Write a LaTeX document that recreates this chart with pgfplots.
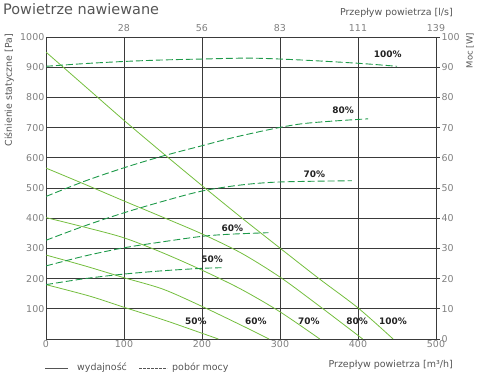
\documentclass[border=0pt]{standalone}
\usepackage{pgfplots}
\pgfplotsset{compat=1.18}
\usepackage{fontspec}
\setmainfont{DejaVu Sans}
\definecolor{gridc}{HTML}{3A3A3A}
\definecolor{solidg}{HTML}{74BE3E}
\definecolor{dashg}{HTML}{1E9A4A}
\definecolor{tickc}{HTML}{808080}
\definecolor{labc}{HTML}{555555}
\definecolor{pctc}{HTML}{222222}
\begin{document}
\begin{tikzpicture}
\useasboundingbox (-46bp,-37bp) rectangle (434bp,339bp);
\begin{axis}[
  scale only axis, width=390bp, height=302bp,
  xmin=0, xmax=500, ymin=0, ymax=1000,
  xtick={0,100,...,500}, ytick={100,200,...,1000},
  xtick pos=bottom, ytick pos=left,
  grid=major, grid style={gridc, line width=0.9bp},
  axis line style={gridc, line width=0.9bp},
  major tick length=0pt,
  tick label style={font=\fontsize{9.5}{10}\selectfont, text=tickc, inner sep=1.5bp},
  /pgf/number format/assume math mode=true,
  /pgf/number format/1000 sep={},
  clip=true,
]
% wydajnosc (solid)
\addplot[solidg, line width=0.8bp, smooth] coordinates {(0,950) (50,837) (100,724) (150,615) (200,508) (250,403) (300,301) (350,200) (400,103) (445,0)};
\addplot[solidg, line width=0.8bp, smooth] coordinates {(0,566) (50,512) (100,457) (150,403) (200,348) (250,285) (300,205) (350,110) (406,0)};
\addplot[solidg, line width=0.8bp, smooth] coordinates {(0,402) (50,370) (100,335) (150,285) (200,228) (250,165) (300,90) (351,0)};
\addplot[solidg, line width=0.8bp, smooth] coordinates {(0,278) (50,242) (100,203) (150,165) (200,108) (250,46) (286,0)};
\addplot[solidg, line width=0.8bp, smooth] coordinates {(0,180) (56,142) (100,105) (150,64) (200,19) (221,0)};
\node[font=\bfseries\fontsize{9}{10}\selectfont, text=pctc] at (axis cs:192,60) {50\%};
\node[font=\bfseries\fontsize{9}{10}\selectfont, text=pctc] at (axis cs:269,60) {60\%};
\node[font=\bfseries\fontsize{9}{10}\selectfont, text=pctc] at (axis cs:337,60) {70\%};
\node[font=\bfseries\fontsize{9}{10}\selectfont, text=pctc] at (axis cs:399,60) {80\%};
\node[font=\bfseries\fontsize{9}{10}\selectfont, text=pctc] at (axis cs:445,60) {100\%};
\end{axis}
\begin{axis}[
  scale only axis, width=390bp, height=302bp,
  xmin=0, xmax=500, ymin=0, ymax=100,
  xtick={100,200,...,500}, xticklabels={28,56,83,111,139},
  ytick={0,10,...,100},
  xtick pos=top, ytick pos=right,
  xticklabel pos=top, yticklabel pos=right,
  axis line style={draw=none},
  xtick style={draw=none},
  ytick style={gridc, line width=0.9bp},
  tick align=outside, major tick length=4bp,
  tick label style={font=\fontsize{9.5}{10}\selectfont, text=tickc, inner sep=1.5bp},
  /pgf/number format/assume math mode=true,
]
% pobor mocy (dashed)
\addplot[dashg, line width=0.9bp, dash pattern=on 7bp off 3bp, smooth] coordinates {(0,90.3) (50,91.2) (100,91.9) (150,92.4) (200,92.7) (262,93.0) (326,92.4) (400,91.3) (450,90.3)};
\addplot[dashg, line width=0.9bp, dash pattern=on 7bp off 3bp, smooth] coordinates {(0,47.2) (50,52.3) (100,56.7) (150,60.6) (200,64.0) (250,67.3) (326,71.2) (413,72.9)};
\addplot[dashg, line width=0.9bp, dash pattern=on 7bp off 3bp, smooth] coordinates {(0,32.7) (50,37.5) (100,41.8) (150,45.6) (200,49.0) (250,51.0) (300,52.0) (392,52.4)};
\addplot[dashg, line width=0.9bp, dash pattern=on 7bp off 3bp, smooth] coordinates {(0,24.2) (50,27.5) (100,30.2) (150,32.2) (200,34.0) (236,34.7) (285,35.2)};
\addplot[dashg, line width=0.9bp, dash pattern=on 7bp off 3bp, smooth] coordinates {(0,18.0) (50,20.0) (100,21.5) (150,22.6) (200,23.4) (225,23.6)};
\node[font=\bfseries\fontsize{9}{10}\selectfont, text=pctc] at (axis cs:438,94.3) {100\%};
\node[font=\bfseries\fontsize{9}{10}\selectfont, text=pctc] at (axis cs:381,75.8) {80\%};
\node[font=\bfseries\fontsize{9}{10}\selectfont, text=pctc] at (axis cs:344,54.6) {70\%};
\node[font=\bfseries\fontsize{9}{10}\selectfont, text=pctc] at (axis cs:239,36.6) {60\%};
\node[font=\bfseries\fontsize{9}{10}\selectfont, text=pctc] at (axis cs:213,26.4) {50\%};
\end{axis}
% titles and labels
\node[anchor=west, font=\fontsize{14.5}{16}\selectfont, text=labc, inner sep=0pt] at (-43bp,330bp) {Powietrze nawiewane};
\node[anchor=east, font=\fontsize{9.5}{11}\selectfont, text=labc, inner sep=0pt] at (407bp,326bp) {Przepływ powietrza [l/s]};
\node[anchor=east, font=\fontsize{9.5}{11}\selectfont, text=labc, inner sep=0pt] at (407bp,-26bp) {Przepływ powietrza [m³/h]};
\node[anchor=east, rotate=90, font=\fontsize{9.4}{11}\selectfont, text=labc, inner sep=0pt] at (-37bp,305bp) {Ciśnienie statyczne [Pa]};
\node[anchor=east, rotate=90, font=\fontsize{8.5}{10}\selectfont, text=labc, inner sep=0pt] at (424bp,306bp) {Moc [W]};
% legend
\draw[labc, line width=0.6bp] (-1bp,-29bp) -- (22bp,-29bp);
\node[anchor=west, font=\fontsize{9.5}{11}\selectfont, text=labc, inner sep=0pt] at (31bp,-29bp) {wydajność};
\draw[labc, line width=0.6bp, dash pattern=on 2.5bp off 1.5bp] (93bp,-29bp) -- (121bp,-29bp);
\node[anchor=west, font=\fontsize{9.5}{11}\selectfont, text=labc, inner sep=0pt] at (126bp,-29bp) {pobór mocy};
\end{tikzpicture}
\end{document}
